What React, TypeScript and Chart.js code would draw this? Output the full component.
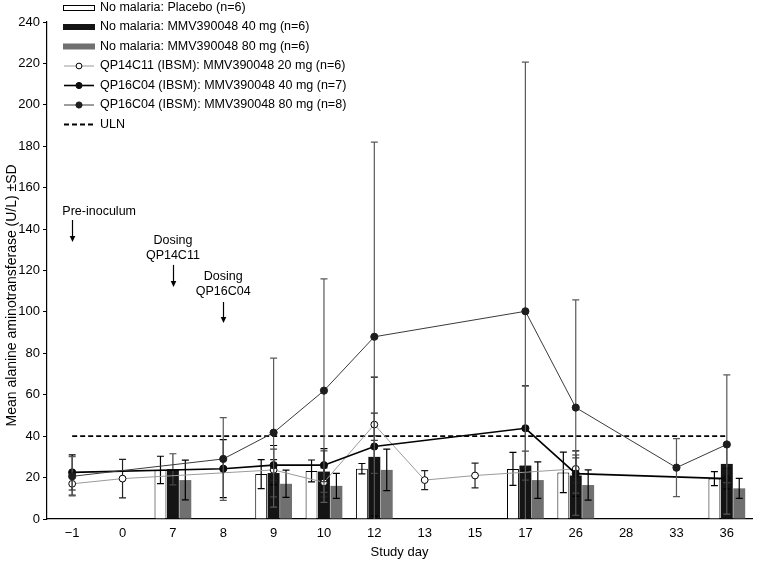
import React, { useEffect, useRef } from 'react';
import { Chart, registerables } from 'chart.js';

Chart.register(...registerables);

const FONT = '"Liberation Sans", Arial, Helvetica, sans-serif';

// Study days (x categories)
const categories = ['\u22121', '0', '7', '8', '9', '10', '12', '13', '15', '17', '26', '28', '33', '36'];

// Bars: no malaria cohorts
const placebo = [null, null, 23.7, null, 21.7, 23.2, 24.3, null, null, 24.2, 22.5, null, null, 19.5];
const placeboSD = [null, null, 6.6, null, 7, 5.3, 2.5, null, null, 8, 9.8, null, null, 3.4];
const noMal40 = [null, null, 24, null, 22.2, 22.9, 30, null, null, 25.8, 21, null, null, 26.6];
const noMal40SD = [null, null, 7.5, null, 11.5, 10, 8, null, null, 7, 8.5, null, null, 9];
const noMal80 = [null, null, 18.8, null, 17, 16, 23.7, null, null, 18.8, 16.4, null, null, 14.8];
const noMal80SD = [null, null, 9.6, null, 6.6, 6, 10, null, null, 8.8, 7.3, null, null, 4.8];

// Lines: IBSM cohorts
const qp14c11_20 = [17, 19.5, null, null, 23.7, 17.7, 45.6, 18.8, 21, null, 24.2, null, null, null];
const qp14c11_20SD = [5.5, 9.3, null, null, 5, 7, 5.5, 4.6, 6, null, 6.7, null, null, null];
const qp16c04_40 = [22.5, null, null, 24.3, 26, 26, 35, null, null, 43.8, 21.9, null, null, 19.5];
const qp16c04_40SD = [8.5, null, null, 14, 9.5, 8, 33.5, null, null, 20.5, 11, null, null, 5];
const qp16c04_80 = [20.6, null, null, 29, 41.7, 62, 88, null, null, 100.3, 53.8, null, 24.8, 36];
const qp16c04_80SD = [9.5, null, null, 20, 36, 54, 94, null, null, 120.3, 52, null, 14, 33.6];

// Upper limit of normal
const uln = [40, 40, 40, 40, 40, 40, 40, 40, 40, 40, 40, 40, 40, 40];

// Y ticks
const yMin = 0;
const yMax = 240;
const yStep = 20;

const yTitle = 'Mean alanine aminotransferase (U/L) \u00b1SD';
const xTitle = 'Study day';

// Annotations (category index, text lines, text y values, arrow from/to values)
const annotations = [
  { cat: 0, dx: 27, lines: ['Pre-inoculum'], textY: [148.4], arrowFrom: 144.4, arrowTo: 133.8 },
  { cat: 2, dx: 0, lines: ['Dosing', 'QP14C11'], textY: [134.4, 127], arrowFrom: 122.7, arrowTo: 112 },
  { cat: 3, dx: 0, lines: ['Dosing', 'QP16C04'], textY: [117, 109.6], arrowFrom: 104.8, arrowTo: 94.6 },
];

const errorBarPlugin = {
  id: 'errorBars',
  beforeDatasetDraw(chart: any, args: any) {
    const ds = chart.data.datasets[args.index];
    if (ds.type === 'line' && ds.errors) drawErrors(chart, args, ds);
  },
  afterDatasetDraw(chart: any, args: any) {
    const ds = chart.data.datasets[args.index];
    if (ds.type === 'bar' && ds.errors) drawErrors(chart, args, ds);
  },
};

function drawErrors(chart: any, args: any, ds: any) {
  const ctx = chart.ctx;
  const y = chart.scales.y;
  const area = chart.chartArea;
  ctx.save();
  ctx.beginPath();
  ctx.rect(area.left, area.top - 2, area.right - area.left, area.bottom - area.top + 2);
  ctx.clip();
  ctx.strokeStyle = ds.errColor || '#000';
  ctx.lineWidth = 1.2;
  const cap = 3.5;
  args.meta.data.forEach((el: any, j: number) => {
    const v = ds.data[j];
    const e = ds.errors[j];
    if (v == null || e == null) return;
    const x = el.x;
    const t = y.getPixelForValue(v + e);
    const b = y.getPixelForValue(v - e);
    ctx.beginPath();
    ctx.moveTo(x, t);
    ctx.lineTo(x, b);
    ctx.moveTo(x - cap, t);
    ctx.lineTo(x + cap, t);
    ctx.moveTo(x - cap, b);
    ctx.lineTo(x + cap, b);
    ctx.stroke();
  });
  ctx.restore();
}

const annotationPlugin = {
  id: 'annot',
  afterDraw(chart: any) {
    const ctx = chart.ctx;
    const xs = chart.scales.x;
    const ys = chart.scales.y;
    ctx.save();
    ctx.fillStyle = '#000';
    ctx.strokeStyle = '#000';
    ctx.font = `12.5px ${FONT}`;
    ctx.textAlign = 'center';
    ctx.textBaseline = 'middle';
    annotations.forEach((a) => {
      const cx = xs.getPixelForValue(a.cat);
      a.lines.forEach((l, i) => ctx.fillText(l, cx + a.dx, ys.getPixelForValue(a.textY[i])));
      const y1 = ys.getPixelForValue(a.arrowFrom);
      const y2 = ys.getPixelForValue(a.arrowTo);
      const ax = Math.round(cx) + 0.5;
      ctx.lineWidth = 1.2;
      ctx.beginPath();
      ctx.moveTo(ax, y1);
      ctx.lineTo(ax, y2 - 4);
      ctx.stroke();
      ctx.beginPath();
      ctx.moveTo(ax - 2.8, y2 - 6);
      ctx.lineTo(ax + 2.8, y2 - 6);
      ctx.lineTo(ax, y2);
      ctx.closePath();
      ctx.fill();
    });
    // Y axis title (rotated), placed as in the reference
    ctx.save();
    ctx.font = `14px ${FONT}`;
    ctx.translate(12, ys.getPixelForValue(108));
    ctx.rotate(-Math.PI / 2);
    ctx.textAlign = 'center';
    ctx.textBaseline = 'middle';
    ctx.fillText(yTitle, 0, 0);
    ctx.restore();
    ctx.restore();
  },
};

const legendPlugin = {
  id: 'customLegend',
  afterDraw(chart: any) {
    const ctx = chart.ctx;
    const order = [0, 1, 2, 3, 4, 5, 6];
    const x0 = 63;
    const x1 = 95;
    const tx = 100;
    ctx.save();
    ctx.font = `12.5px ${FONT}`;
    ctx.textBaseline = 'middle';
    ctx.textAlign = 'left';
    order.forEach((di, i) => {
      const ds = chart.data.datasets[di];
      const yc = 7.5 + i * 19.5;
      if (ds.type === 'bar') {
        ctx.fillStyle = ds.backgroundColor;
        ctx.fillRect(x0, yc - 3, x1 - x0, 6);
        if (ds.borderWidth) {
          ctx.strokeStyle = ds.borderColor;
          ctx.lineWidth = 1;
          ctx.strokeRect(x0 + 0.5, Math.round(yc - 3) + 0.5, x1 - x0 - 1, 5);
        }
      } else {
        ctx.strokeStyle = ds.borderColor;
        ctx.lineWidth = ds.borderWidth;
        ctx.setLineDash(ds.borderDash || []);
        ctx.beginPath();
        ctx.moveTo(x0 + 1, yc);
        ctx.lineTo(x1 - 1, yc);
        ctx.stroke();
        ctx.setLineDash([]);
        if (ds.pointRadius > 0) {
          ctx.beginPath();
          ctx.arc((x0 + x1) / 2, yc, ds.pointRadius - 0.5, 0, Math.PI * 2);
          ctx.fillStyle = ds.pointBackgroundColor;
          ctx.fill();
          ctx.strokeStyle = ds.pointBorderColor;
          ctx.lineWidth = 1;
          ctx.stroke();
        }
      }
      ctx.fillStyle = '#000';
      ctx.fillText(ds.label, tx, yc);
    });
    ctx.restore();
  },
};

export default function App() {
  const ref = useRef<HTMLCanvasElement>(null);

  useEffect(() => {
    document.body.style.margin = '0';
    const canvas = ref.current!;
    const barCommon = { type: 'bar', categoryPercentage: 0.74, barPercentage: 0.96, order: 10 };
    const chart = new Chart(canvas, {
      type: 'bar',
      data: {
        labels: categories,
        datasets: [
          { ...barCommon, label: 'No malaria: Placebo (n=6)', data: placebo, errors: placeboSD, errColor: '#000',
            backgroundColor: '#ffffff', borderColor: '#000', borderWidth: 1 },
          { ...barCommon, label: 'No malaria: MMV390048 40 mg (n=6)', data: noMal40, errors: noMal40SD, errColor: '#444',
            backgroundColor: '#141414', borderWidth: 0 },
          { ...barCommon, label: 'No malaria: MMV390048 80 mg (n=6)', data: noMal80, errors: noMal80SD, errColor: '#000',
            backgroundColor: '#707070', borderWidth: 0 },
          { type: 'line', label: 'QP14C11 (IBSM): MMV390048 20 mg (n=6)', data: qp14c11_20, errors: qp14c11_20SD, errColor: '#222',
            borderColor: '#9a9a9a', borderWidth: 1, pointRadius: 3.4, pointBackgroundColor: '#fff', pointBorderColor: '#000',
            pointBorderWidth: 1, spanGaps: true, order: 3 },
          { type: 'line', label: 'QP16C04 (IBSM): MMV390048 40 mg (n=7)', data: qp16c04_40, errors: qp16c04_40SD, errColor: '#000',
            borderColor: '#000', borderWidth: 1.6, pointRadius: 3.6, pointBackgroundColor: '#0d0d0d', pointBorderColor: '#0d0d0d',
            pointBorderWidth: 1, spanGaps: true, order: 2 },
          { type: 'line', label: 'QP16C04 (IBSM): MMV390048 80 mg (n=8)', data: qp16c04_80, errors: qp16c04_80SD, errColor: '#5a5a5a',
            borderColor: '#3a3a3a', borderWidth: 1, pointRadius: 3.6, pointBackgroundColor: '#1e1e1e', pointBorderColor: '#1e1e1e',
            pointBorderWidth: 1, spanGaps: true, order: 1 },
          { type: 'line', label: 'ULN', data: uln, borderColor: '#000', borderWidth: 1.8, borderDash: [5, 3],
            pointRadius: 0, order: 5 },
        ] as any,
      },
      options: {
        animation: false,
        responsive: false,
        maintainAspectRatio: false,
        events: [],
        layout: { padding: { top: 22, right: 3, bottom: 0, left: 0 } },
        plugins: { legend: { display: false }, tooltip: { enabled: false } },
        scales: {
          x: {
            type: 'category',
            offset: true,
            grid: { display: false, drawTicks: false },
            border: { display: true, color: '#000', width: 1.2 },
            ticks: { color: '#000', font: { family: FONT, size: 13 }, padding: 7, maxRotation: 0, autoSkip: false },
            title: { display: true, text: xTitle, color: '#000', font: { family: FONT, size: 13 }, padding: { top: 2, bottom: 2 } },
            afterFit: (s: any) => { s.height = 43; },
          },
          y: {
            min: yMin,
            max: yMax,
            ticks: { stepSize: yStep, color: '#000', font: { family: FONT, size: 13 }, padding: 3 },
            grid: { display: true, drawOnChartArea: false, drawTicks: true, tickLength: 4, color: '#000' },
            border: { display: true, color: '#000', width: 1.2 },
            title: { display: false },
            afterFit: (s: any) => { s.width = 47; },
          },
        },
      } as any,
      plugins: [errorBarPlugin, annotationPlugin, legendPlugin],
    });
    return () => chart.destroy();
  }, []);

  return (
    <div style={{ width: 757, height: 562 }}>
      <canvas ref={ref} width={757} height={562} style={{ width: 757, height: 562, display: 'block' }} />
    </div>
  );
}
